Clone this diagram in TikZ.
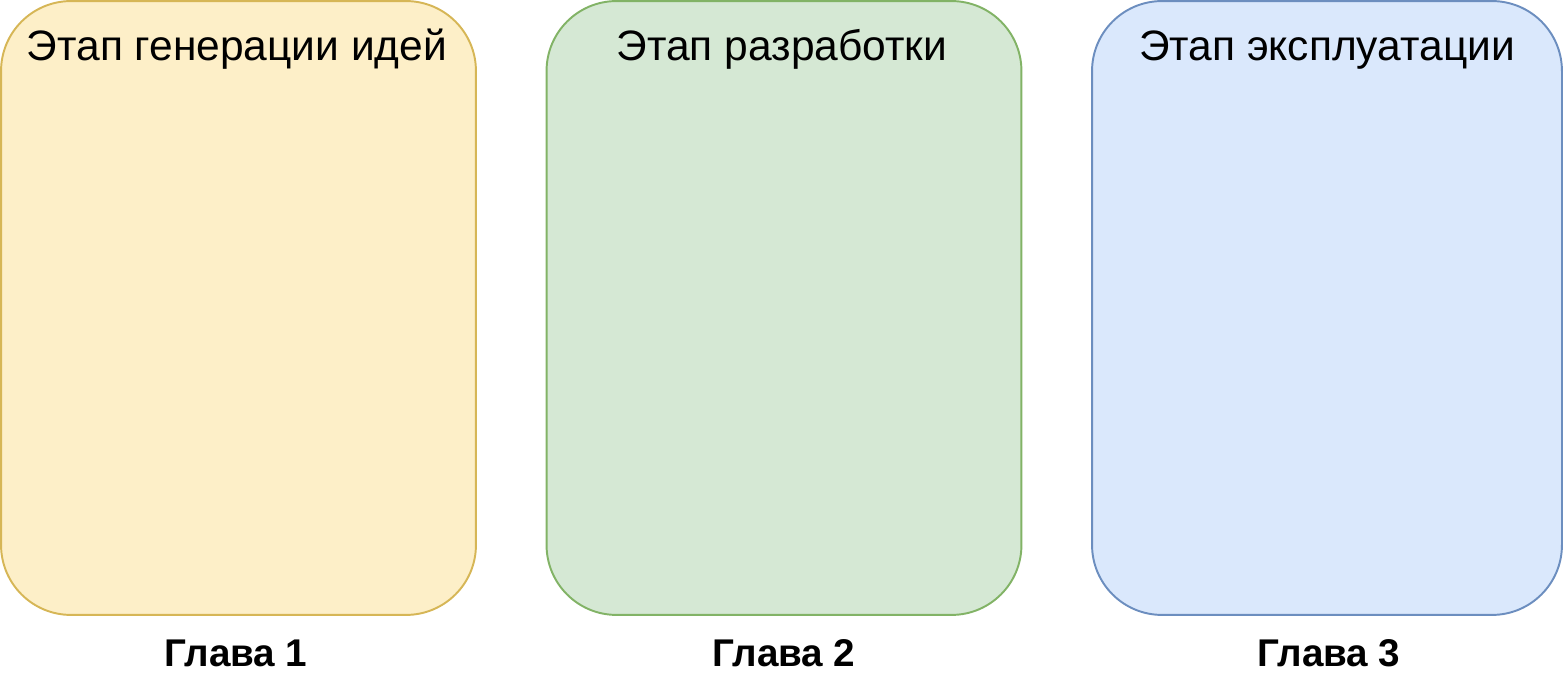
\documentclass[tikz,border=0pt]{standalone}
\usepackage{fontspec}
\setmainfont{Liberation Sans}
\usepackage{xcolor}
\definecolor{ideafill}{HTML}{FDEFC8}
\definecolor{ideadraw}{HTML}{D6B656}
\definecolor{devfill}{HTML}{D5E8D4}
\definecolor{devdraw}{HTML}{82B366}
\definecolor{opfill}{HTML}{DAE8FC}
\definecolor{opdraw}{HTML}{6C8EBF}
\begin{document}
\begin{tikzpicture}[x=0.02cm,y=-0.02cm]
  \tikzstyle{stage}=[rectangle,rounded corners=1.4cm,line width=1.1pt,minimum height=12.28cm,inner sep=0pt]
  \tikzstyle{head}=[anchor=base,font=\fontsize{24.2}{28}\selectfont]
  \tikzstyle{chap}=[anchor=base,font=\fontsize{22}{26}\selectfont\bfseries]
  \useasboundingbox (0,0) rectangle (1563,688);
  % stages
  \node(idea) at (238.5,308) [stage,draw=ideadraw,fill=ideafill,minimum width=9.5cm]{};
  \node(dev) at (784,308) [stage,draw=devdraw,fill=devfill,minimum width=9.5cm]{};
  \node(op) at (1327,308) [stage,draw=opdraw,fill=opfill,minimum width=9.4cm]{};
  % titles
  \node(idea-head) at (237,61) [head]{Этап генерации идей};
  \node(dev-head) at (782,61) [head]{Этап разработки};
  \node(op-head) at (1327,61) [head]{Этап эксплуатации};
  % chapters
  \node(idea-chap) at (236,667) [chap]{Глава 1};
  \node(dev-chap) at (784,667) [chap]{Глава 2};
  \node(op-chap) at (1329,667) [chap]{Глава 3};
\end{tikzpicture}
\end{document}
